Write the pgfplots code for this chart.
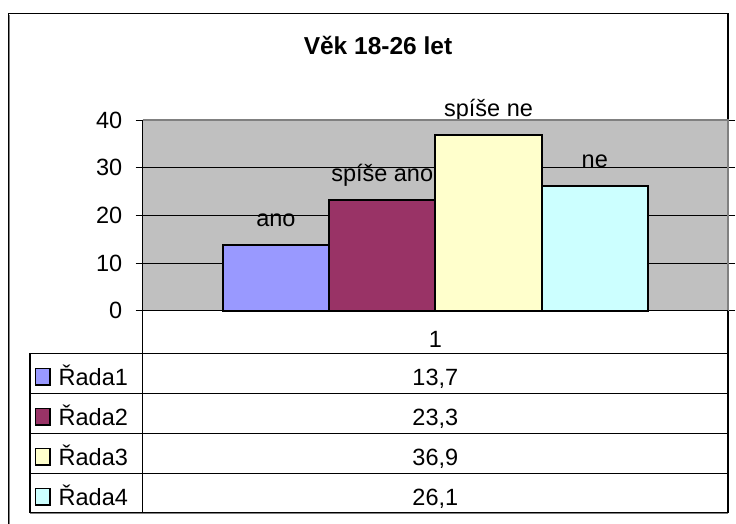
\documentclass[border=0pt]{standalone}
\usepackage{fontspec}
\setmainfont{Liberation Sans}
\usepackage{pgfplots}
\pgfplotsset{compat=1.18}
\definecolor{cA}{HTML}{9999FF}
\definecolor{cB}{HTML}{993366}
\definecolor{cC}{HTML}{FFFFCC}
\definecolor{cD}{HTML}{CCFFFF}
\definecolor{bgG}{HTML}{C0C0C0}
\definecolor{brd}{HTML}{808080}
\newcommand{\lf}{\fontsize{23.5}{26}\selectfont}
\begin{document}
\begin{tikzpicture}[x=1pt,y=1pt]
\useasboundingbox (0,0) rectangle (736,-524);
\fill[white] (0,0) rectangle (736,-524);
\node[font=\fontsize{24.5}{28}\selectfont\bfseries, anchor=base] at (378,-54.3) {Věk 18-26 let};
\begin{axis}[
  at={(142.7pt,-310.7pt)}, anchor=south west,
  scale only axis, width=585.3pt, height=190.7pt,
  xmin=0, xmax=2, ymin=0, ymax=40,
  ybar=0pt, bar width=106.3pt,
  ytick={0,10,20,30,40}, xtick={1}, xticklabels={1},
  ymajorgrids, grid style={black, line width=0.9pt},
  axis background/.style={fill=bgG},
  axis line style={draw=none},
  tick align=outside, major tick length=7pt,
  ytick style={black, line width=0.9pt},
  xtick style={draw=none},
  tick label style={font=\lf},
  /pgf/number format/assume math mode=true,
  yticklabel style={anchor=east, xshift=-10pt},
  xticklabel style={anchor=center, yshift=-22pt},
  every node near coord/.append style={font=\lf, anchor=base, yshift=18.5pt, text=black},
  clip=false,
]
\addplot[fill=cA, draw=black, line width=2pt, nodes near coords={ano}] coordinates {(1,13.7)};
\addplot[fill=cB, draw=black, line width=2pt, nodes near coords={spíše ano}] coordinates {(1,23.3)};
\addplot[fill=cC, draw=black, line width=2pt, nodes near coords={spíše ne}] coordinates {(1,36.9)};
\addplot[fill=cD, draw=black, line width=2pt, nodes near coords={ne}] coordinates {(1,26.1)};
\end{axis}
% outer frame
\draw[black, line width=1.2] (8.3,-524) -- (8.3,-13.3) -- (728,-13.3) -- (728,-512.5);
\draw[brd, line width=1] (9.6,-524) -- (9.6,-14.6);
% plot area border
\draw[brd, line width=2] (142.7,-120) -- (728,-120) -- (728,-310.7);
\draw[black, line width=1.2] (142.7,-120) -- (142.7,-512.5);
\draw[black, line width=1.2] (142.7,-310.7) -- (728,-310.7);
% data table
\foreach \yy in {353.3,393.3,433.3,473.3} \draw[black, line width=1.2] (30,-\yy) -- (728,-\yy);
\draw[brd, line width=1.2] (30,-513.7) -- (728,-513.7);
\draw[black, line width=1.2] (30,-512.5) -- (728,-512.5);
\draw[black, line width=1.2] (30,-353.3) -- (30,-512.5);
% legend keys and values
\foreach \c/\lab/\val [count=\i from 0] in {cA/Řada1/{13,7}, cB/Řada2/{23,3}, cC/Řada3/{36,9}, cD/Řada4/{26,1}} {
  \pgfmathsetmacro{\top}{353.3+40*\i}
  \filldraw[fill=\c, draw=black, line width=1.5] (35.5,-\top-15) rectangle (50,-\top-31.5);
  \node[font=\lf, anchor=base west, inner sep=0] at (58.5,-\top-32) {\lab};
  \node[font=\lf, anchor=base, inner sep=0] at (435.35,-\top-32) {\val};
}
\end{tikzpicture}
\end{document}
